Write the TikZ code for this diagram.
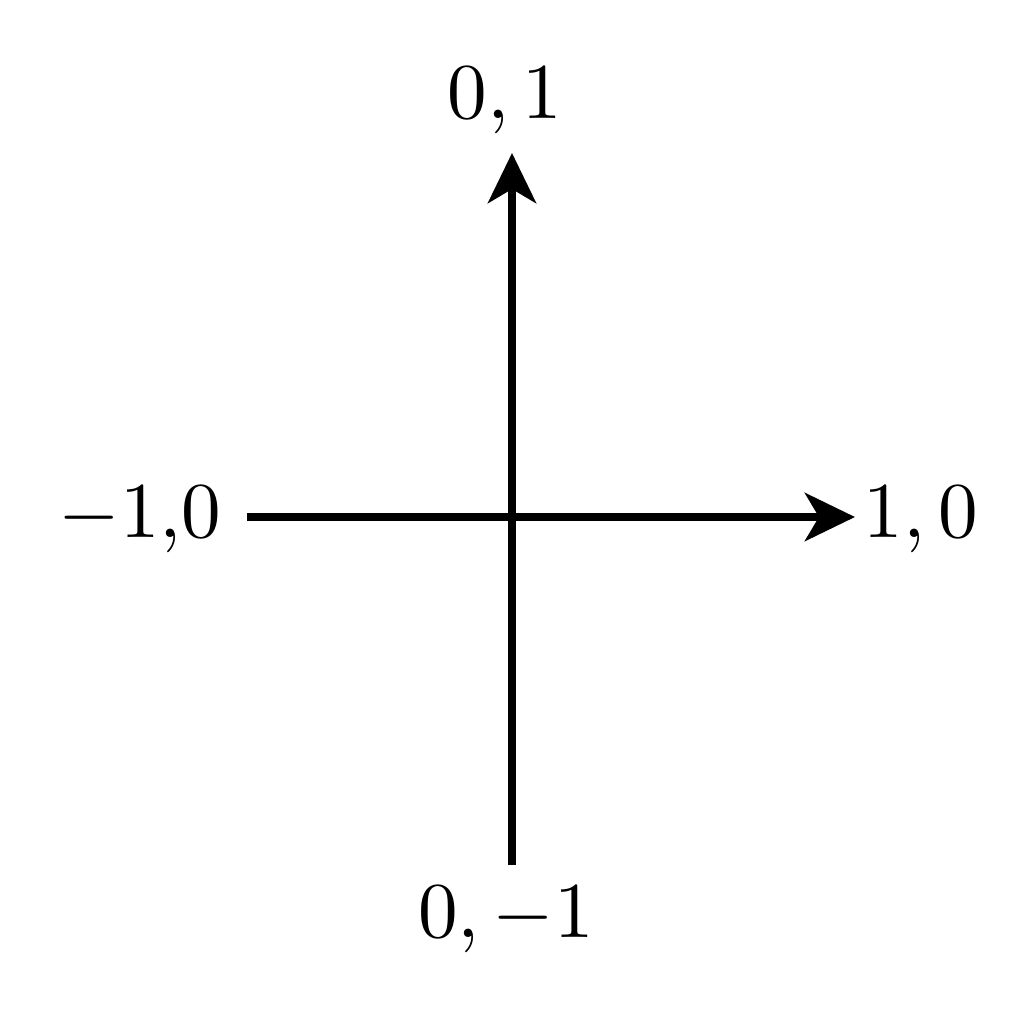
\documentclass[tikz,border=0pt]{standalone}
\usetikzlibrary{arrows.meta}
\begin{document}
\begin{tikzpicture}[x=0.01cm,y=-0.01cm,
  axis/.style={line width=0.08cm,-{Stealth[length=0.5cm,width=0.48cm,inset=0.14cm]}},
  lab/.style={inner sep=0pt,anchor=base,scale=2.25}]
\useasboundingbox (0,0) rectangle (1024,1024);
\coordinate (L) at (247,517);
\coordinate (R) at (855,517);
\coordinate (B) at (512,865);
\coordinate (T) at (512,153);
\draw[axis] (L) -- (R);
\draw[axis] (B) -- (T);
\node[lab] (top) at (505,118) {$0,1$};
\node[lab] (right) at (921,537) {$1,0$};
\node[lab] (left) at (140,537) {$-1{,}0$};
\node[lab] (bottom) at (506,937) {$0,-1$};
\end{tikzpicture}
\end{document}
